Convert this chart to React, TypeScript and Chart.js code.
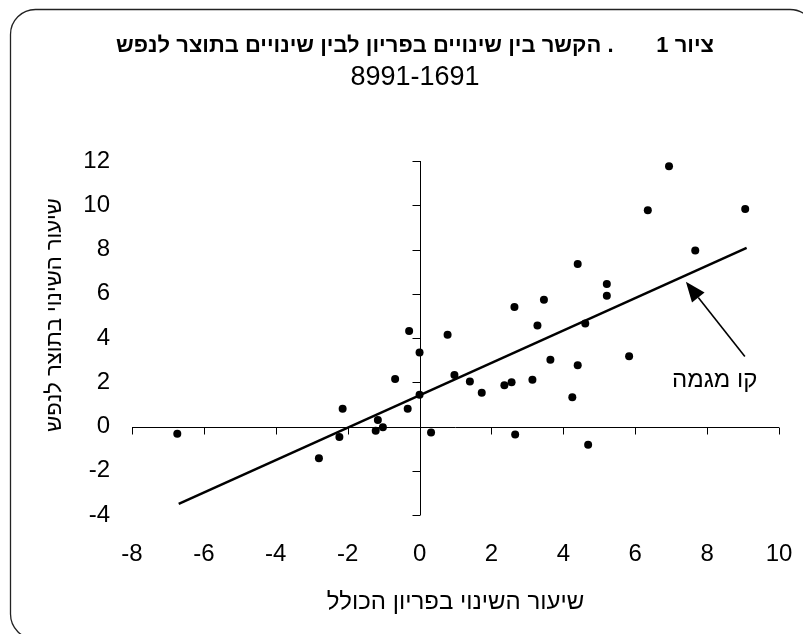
import React, { useEffect, useRef } from "react";
import { Chart, registerables } from "chart.js";

Chart.register(...registerables);

const FONT = "'Liberation Sans', Arial, sans-serif";

const TITLE = "ציור 1       . הקשר בין שינויים בפריון לבין שינויים בתוצר לנפש";
const SUBTITLE = "8991-1691";
const X_TITLE = "שיעור השינוי בפריון הכולל";
const Y_TITLE = "שיעור השינוי בתוצר לנפש";
const TREND_LABEL = "קו מגמה";

// x: rate of change in total productivity
const productivityChange = [
  -6.74, -2.8, -2.23, -2.14, -1.22, -1.16, -1.02, -0.68, -0.33, -0.29,
  0.0, 0.0, 0.32, 0.78, 0.97, 1.4, 1.73, 2.36, 2.56, 2.64,
  2.66, 3.14, 3.28, 3.46, 3.64, 4.25, 4.4, 4.4, 4.61, 4.69,
  5.21, 5.21, 5.83, 6.35, 6.94, 7.67, 9.06,
];
// y: rate of change in output per capita
const outputChange = [
  -0.33, -1.43, -0.48, 0.8, -0.19, 0.29, -0.03, 2.15, 0.8, 4.32,
  3.34, 1.43, -0.27, 4.15, 2.33, 2.03, 1.52, 1.87, 2.0, 5.4,
  -0.36, 2.11, 4.56, 5.73, 3.02, 1.32, 2.77, 7.35, 4.65, -0.83,
  6.44, 5.91, 3.17, 9.77, 11.76, 7.96, 9.83,
];

// trend line end points
const trendX = [-6.7, 9.1];
const trendY = [-3.5, 8.07];

const X_MIN = -8;
const X_MAX = 10;
const Y_MIN = -4;
const Y_MAX = 12;
const TICK_STEP = 2;

// annotation anchors (data units)
const ARROW_FROM = { x: 9.05, y: 3.16 };
const ARROW_TO = { x: 7.41, y: 6.54 };
const LABEL_AT = { x: 8.21, y: 2.1 };

const frameAndTitles = {
  id: "frameAndTitles",
  beforeDraw(chart: any) {
    const { ctx } = chart;
    ctx.save();
    ctx.fillStyle = "#fff";
    ctx.fillRect(0, 0, chart.width, chart.height);
    // rounded frame
    const l = 10.5, t = 9.5, r = 815, b = 639, rad = 25;
    ctx.beginPath();
    ctx.moveTo(l + rad, t);
    ctx.lineTo(r - rad, t);
    ctx.arcTo(r, t, r, t + rad, rad);
    ctx.lineTo(r, b - rad);
    ctx.arcTo(r, b, r - rad, b, rad);
    ctx.lineTo(l + rad, b);
    ctx.arcTo(l, b, l, b - rad, rad);
    ctx.lineTo(l, t + rad);
    ctx.arcTo(l, t, l + rad, t, rad);
    ctx.closePath();
    ctx.strokeStyle = "#222";
    ctx.lineWidth = 1.3;
    ctx.stroke();

    ctx.fillStyle = "#000";
    ctx.textAlign = "center";
    ctx.textBaseline = "middle";
    ctx.direction = "rtl";
    ctx.font = `bold 22px ${FONT}`;
    ctx.fillText(TITLE, 415, 46);
    ctx.direction = "ltr";
    ctx.font = `27px ${FONT}`;
    ctx.fillText(SUBTITLE, 415, 78);
    ctx.restore();
  },
};

const crossAxes = {
  id: "crossAxes",
  beforeDatasetsDraw(chart: any) {
    const { ctx } = chart;
    const xs = chart.scales.x;
    const ys = chart.scales.y;
    const x0 = Math.round(xs.getPixelForValue(0)) + 0.5;
    const y0 = Math.round(ys.getPixelForValue(0)) + 0.5;
    ctx.save();
    ctx.strokeStyle = "#000";
    ctx.lineWidth = 1;
    ctx.beginPath();
    ctx.moveTo(xs.left, y0);
    ctx.lineTo(xs.right, y0);
    ctx.moveTo(x0, ys.top);
    ctx.lineTo(x0, ys.bottom);
    xs.ticks.forEach((tk: any) => {
      const px = Math.round(xs.getPixelForValue(tk.value)) + 0.5;
      ctx.moveTo(px, y0);
      ctx.lineTo(px, y0 + 7);
    });
    ys.ticks.forEach((tk: any) => {
      const py = Math.round(ys.getPixelForValue(tk.value)) + 0.5;
      ctx.moveTo(x0 - 8, py);
      ctx.lineTo(x0, py);
    });
    ctx.stroke();

    // axis titles
    ctx.fillStyle = "#000";
    ctx.textAlign = "center";
    ctx.textBaseline = "middle";
    ctx.direction = "rtl";
    ctx.font = `24px ${FONT}`;
    ctx.fillText(X_TITLE, (xs.left + xs.right) / 2, 602);
    ctx.translate(55, 315);
    ctx.rotate(-Math.PI / 2);
    ctx.font = `22px ${FONT}`;
    ctx.fillText(Y_TITLE, 0, 0);
    ctx.restore();
  },
};

const trendAnnotation = {
  id: "trendAnnotation",
  afterDatasetsDraw(chart: any) {
    const { ctx } = chart;
    const xs = chart.scales.x;
    const ys = chart.scales.y;
    const fx = xs.getPixelForValue(ARROW_FROM.x);
    const fy = ys.getPixelForValue(ARROW_FROM.y);
    const tx = xs.getPixelForValue(ARROW_TO.x);
    const ty = ys.getPixelForValue(ARROW_TO.y);
    const ang = Math.atan2(ty - fy, tx - fx);
    const headLen = 20;
    const headHalf = 8;
    const bx = tx - headLen * Math.cos(ang);
    const by = ty - headLen * Math.sin(ang);
    ctx.save();
    ctx.strokeStyle = "#000";
    ctx.fillStyle = "#000";
    ctx.lineWidth = 1.6;
    ctx.beginPath();
    ctx.moveTo(fx, fy);
    ctx.lineTo(bx, by);
    ctx.stroke();
    ctx.beginPath();
    ctx.moveTo(tx, ty);
    ctx.lineTo(bx + headHalf * Math.sin(ang), by - headHalf * Math.cos(ang));
    ctx.lineTo(bx - headHalf * Math.sin(ang), by + headHalf * Math.cos(ang));
    ctx.closePath();
    ctx.fill();
    ctx.font = `24px ${FONT}`;
    ctx.textAlign = "center";
    ctx.textBaseline = "middle";
    ctx.direction = "rtl";
    ctx.fillText(TREND_LABEL, xs.getPixelForValue(LABEL_AT.x), ys.getPixelForValue(LABEL_AT.y));
    ctx.restore();
  },
};

export default function App() {
  const canvasRef = useRef<HTMLCanvasElement | null>(null);

  useEffect(() => {
    if (!canvasRef.current) return;
    const points = productivityChange.map((x, i) => ({ x, y: outputChange[i] }));
    const trend = trendX.map((x, i) => ({ x, y: trendY[i] }));
    const chart = new Chart(canvasRef.current, {
      type: "scatter",
      data: {
        datasets: [
          {
            label: "trend",
            data: trend,
            showLine: true,
            borderColor: "#000",
            borderWidth: 2.5,
            pointRadius: 0,
            fill: false,
          },
          {
            label: "points",
            data: points,
            pointRadius: 4,
            pointBackgroundColor: "#000",
            pointBorderWidth: 0,
            showLine: false,
          },
        ],
      },
      options: {
        animation: false,
        responsive: false,
        maintainAspectRatio: false,
        layout: { padding: { left: 0, right: 24, top: 161, bottom: 0 } },
        plugins: {
          legend: { display: false },
          tooltip: { enabled: false },
          title: { display: false },
        },
        scales: {
          x: {
            type: "linear",
            min: X_MIN,
            max: X_MAX,
            grid: { display: false, drawTicks: false },
            border: { display: false },
            ticks: {
              stepSize: TICK_STEP,
              color: "#000",
              font: { size: 24, family: FONT },
              padding: 25,
              maxRotation: 0,
            },
            title: { display: false },
            afterFit: (s: any) => {
              s.height = 119;
              s.paddingLeft = 0;
              s.paddingRight = 0;
            },
          },
          y: {
            type: "linear",
            min: Y_MIN,
            max: Y_MAX,
            grid: { display: false, drawTicks: false },
            border: { display: false },
            ticks: {
              stepSize: TICK_STEP,
              color: "#000",
              font: { size: 24, family: FONT },
              padding: 22,
            },
            title: { display: false },
            afterFit: (s: any) => {
              s.width = 132;
              s.paddingTop = 0;
              s.paddingBottom = 0;
            },
          },
        },
      },
      plugins: [frameAndTitles, crossAxes, trendAnnotation],
    });
    return () => chart.destroy();
  }, []);

  return (
    <div style={{ position: "absolute", left: 0, top: 0, width: 803, height: 634, background: "#fff" }}>
      <canvas ref={canvasRef} width={803} height={634} style={{ width: 803, height: 634, display: "block" }} />
    </div>
  );
}
